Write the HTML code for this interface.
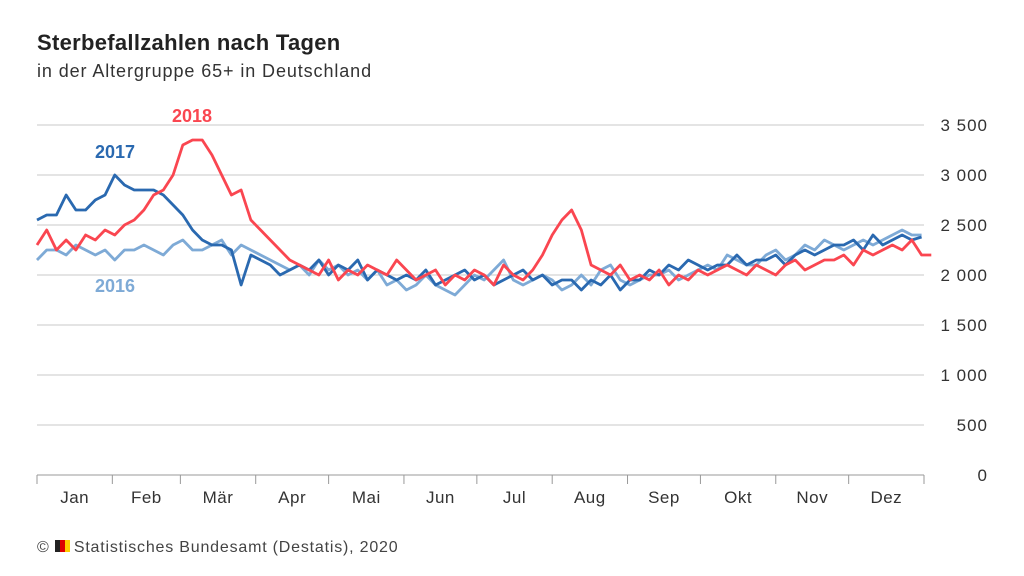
<!DOCTYPE html>
<html><head><meta charset="utf-8"><style>
body{margin:0;width:1024px;height:576px;background:#fff;font-family:"Liberation Sans",sans-serif;overflow:hidden;position:relative}
.t{position:absolute;left:37px;top:30px;font-size:22px;font-weight:bold;color:#222;letter-spacing:0.3px}
.s{position:absolute;left:37px;top:61px;font-size:18px;color:#333;letter-spacing:0.9px}
.f{position:absolute;left:37px;top:539px;font-size:16px;color:#444;letter-spacing:0.8px}
</style></head><body>
<div class="t">Sterbefallzahlen nach Tagen</div>
<div class="s">in der Altergruppe 65+ in Deutschland</div>
<svg id="c" width="1024" height="576" style="position:absolute;left:0;top:0"></svg>
<div class="f">© <span style="display:inline-block;width:5px;height:12px;background:#222"></span><span style="display:inline-block;width:5px;height:12px;background:#d00"></span><span style="display:inline-block;width:5px;height:12px;background:#fc0;margin-right:4px"></span>Statistisches Bundesamt (Destatis), 2020</div>
<script>
const months=["Jan","Feb","Mär","Apr","Mai","Jun","Jul","Aug","Sep","Okt","Nov","Dez"];
const monthStarts=[0,31,59,90,120,151,181,212,243,273,304,334,365];
const yTicks=[0,500,1000,1500,2000,2500,3000,3500];
const yLabels=["0","500","1 000","1 500","2 000","2 500","3 000","3 500"];
const dayStep=4;
const s2016=[2150,2250,2250,2200,2300,2250,2200,2250,2150,2250,2250,2300,2250,2200,2300,2350,2250,2250,2300,2350,2200,2300,2250,2200,2150,2100,2050,
2100,2000,2150,2050,2100,2000,2050,1950,2050,1900,1950,1850,1900,2000,1900,1850,1800,1900,2000,1950,2050,2150,1950,1900,1950,2000,1950,1850,1900,2000,1900,2050,2100,1950,1900,1950,2000,2000,2050,1950,2000,2050,2100,2050,2200,2150,2100,2100,2200,2250,2150,2200,2300,2250,2350,2300,2250,2300,2350,2300,2350,2400,2450,2400,2400];
const s2017=[2550,2600,2600,2800,2650,2650,2750,2800,3000,2900,2850,2850,2850,2800,2700,2600,2450,2350,2300,2300,2250,1900,2200,
2150,2100,2000,2050,2100,2050,2150,2000,2100,2050,2150,1950,2050,2000,1950,2000,1950,2050,1900,1950,2000,2050,1950,2000,1900,1950,2000,2050,1950,2000,1900,1950,1950,1850,1950,1900,2000,1850,1950,1950,2050,2000,2100,2050,2150,2100,2050,2100,2100,2200,2100,2150,2150,2200,2100,2200,2250,2200,2250,2300,2300,2350,2250,2400,2300,2350,2400,2350,2380];
const s2018=[2300,2450,2250,2350,2250,2400,2350,2450,2400,2500,2550,2650,2800,2850,3000,3300,3350,3350,3200,3000,2800,2850,2550,2450,2350,2250,2150,
2100,2050,2000,2150,1950,2050,2000,2100,2050,2000,2150,2050,1950,2000,2050,1900,2000,1950,2050,2000,1900,2100,2000,1950,2050,2200,2400,2550,2650,2450,2100,2050,2000,2100,1950,2000,1950,2050,1900,2000,1950,2050,2000,2050,2100,2050,2000,2100,2050,2000,2100,2150,2050,2100,2150,2150,2200,2100,2250,2200,2250,2300,2250,2350,2200,2200];
const NS="http://www.w3.org/2000/svg",svg=document.getElementById('c');
const X0=37,X1=924,Y0=475;
const xs=d=>X0+d/365*(X1-X0), ys=v=>Y0-v/10;
function mk(t,a){const e=document.createElementNS(NS,t);for(const k in a)e.setAttribute(k,a[k]);svg.appendChild(e);return e;}
yTicks.forEach((v,i)=>{
 const l=mk('line',{x1:X0,x2:X1,y1:ys(v),y2:ys(v),stroke:v===0?'#999':'#c8c8c8','stroke-width':1});
 
 
 const t=mk('text',{x:988,y:ys(v)+6,'text-anchor':'end','font-size':17,'letter-spacing':1,fill:'#333','font-family':'Liberation Sans, sans-serif'});
 t.textContent=yLabels[i];
 
 
});
monthStarts.forEach(d=>{
 const l=mk('line',{x1:xs(d),x2:xs(d),y1:Y0,y2:Y0+9,stroke:'#999','stroke-width':1});
 
 
});
months.forEach((m,i)=>{
 const t=mk('text',{x:xs((monthStarts[i]+monthStarts[i+1])/2),y:503,'text-anchor':'middle','font-size':17,'letter-spacing':0.5,fill:'#333','font-family':'Liberation Sans, sans-serif'});
 t.textContent=m;
 
 
});
function series(arr,col,name){
 const p=mk('polyline',{points:arr.map((v,i)=>xs(i*dayStep)+','+ys(v)).join(' '),fill:'none',stroke:col,'stroke-width':2.8,'stroke-linejoin':'round'});
 
 
}
series(s2016,'#7eaad6','line-2016');
series(s2017,'#2a69b0','line-2017');
series(s2018,'#fa4650','line-2018');
[["2017",95,158,'#2a69b0'],["2018",172,122,'#fa4650'],["2016",95,292,'#7eaad6']].forEach(a=>{
 const t=mk('text',{x:a[1],y:a[2],'font-size':18,'font-weight':'bold',fill:a[3],'font-family':'Liberation Sans, sans-serif'});
 t.textContent=a[0];
 
 
});
</script>
</body></html>
